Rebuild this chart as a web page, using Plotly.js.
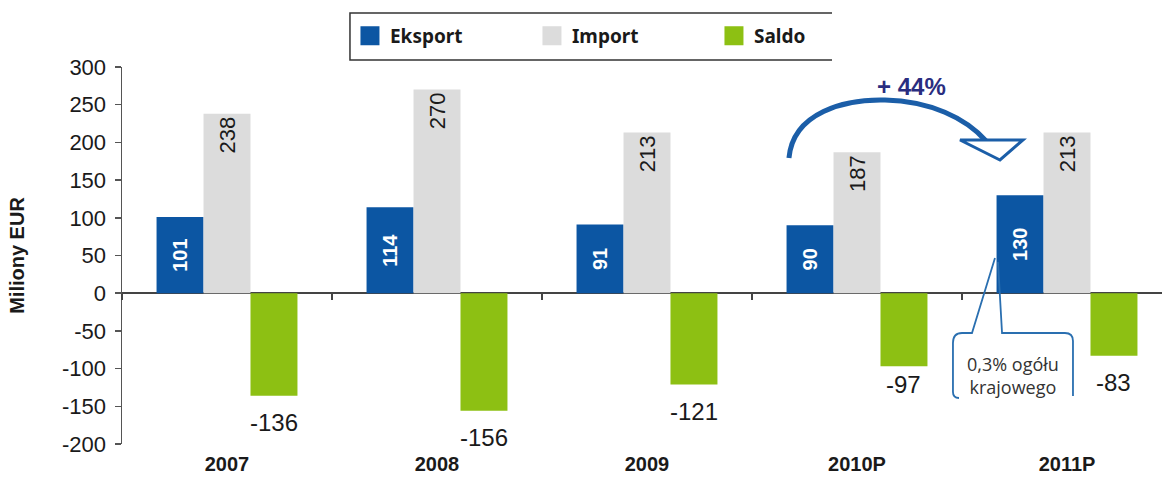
<!DOCTYPE html>
<html>
<head>
<meta charset="utf-8">
<script src="https://cdn.plot.ly/plotly-3.0.1.min.js"></script>
<style>html,body{margin:0;padding:0;background:#fff;}#chart{width:1162px;height:491px;}</style>
</head>
<body>
<div id="chart"></div>
<script>
// ---- data ----
const categories = ['2007', '2008', '2009', '2010P', '2011P'];
const eksport = [101, 114, 91, 90, 130];
const importVals = [238, 270, 213, 187, 213];
const saldo = [-136, -156, -121, -97, -83];
const seriesNames = ['Eksport', 'Import', 'Saldo'];
const yTickVals = [-200, -150, -100, -50, 0, 50, 100, 150, 200, 250, 300];
const yTickText = ['-200', '-150', '-100', '-50', '0', '50', '100', '150', '200', '250', '300'];
const growthLabel = '+ 44%';
const calloutText = '0,3% ogółu<br>krajowego';
const yTitle = 'Miliony EUR';

// ---- layout geometry ----
const W = 1162, H = 491;
const M = {l: 122, r: 0, t: 67, b: 47};
const plotW = W - M.l - M.r, plotH = H - M.t - M.b;
const bargap = 0.329;
const xRange = [-0.5, -0.5 + plotW / 210];
const FONT = 'Liberation Sans, Arial, sans-serif';
const TXT = '#1a1a1a';
const BLUE = '#0c56a3', GREY = '#dcdcdc', GREEN = '#8dc013';
const colors = [BLUE, GREY, GREEN];

// pixel -> paper helpers for decorations
const px = x => ((x - M.l) / plotW).toFixed(4);
const py = y => ((H - M.b - y) / plotH).toFixed(4);
const P = (x, y) => px(x) + ',' + py(y);

const traces = [
  {type: 'bar', name: seriesNames[0], x: categories, y: eksport, showlegend: false,
   marker: {color: BLUE}, text: eksport.map(String), textposition: 'inside',
   insidetextanchor: 'middle', textangle: -90,
   textfont: {family: FONT, size: 20, color: '#ffffff', weight: 'bold'}, hoverinfo: 'y'},
  {type: 'bar', name: seriesNames[1], x: categories, y: importVals, showlegend: false,
   marker: {color: GREY}, text: importVals.map(String), textposition: 'inside',
   insidetextanchor: 'end', textangle: -90,
   textfont: {family: FONT, size: 22, color: TXT}, hoverinfo: 'y'},
  {type: 'bar', name: seriesNames[2], x: categories, y: saldo, showlegend: false,
   marker: {color: GREEN}, textposition: 'none', hoverinfo: 'y'},
  // helper trace carrying the category boundary ticks on the zero line
  {type: 'scatter', mode: 'markers', x: categories, y: categories.map(() => 0),
   xaxis: 'x2', yaxis: 'y', marker: {opacity: 0}, showlegend: false, hoverinfo: 'skip'}
];
// legend entries with larger square swatches
seriesNames.forEach((n, i) => traces.push({
  type: 'scatter', mode: 'markers', name: n, x: [null], y: [null],
  marker: {symbol: 'square', size: 16, color: colors[i], line: {color: colors[i], width: 3}},
  hoverinfo: 'skip'
}));

const barW = (1 - bargap) / 3;
const saldoShift = [-27, -27, -27, -18, -27];
const annotations = saldo.map((v, i) => ({
  x: i + barW, y: v, xref: 'x', yref: 'y', text: String(v), showarrow: false,
  yshift: saldoShift[i], yanchor: 'middle', xanchor: 'center',
  font: {family: FONT, size: 24, color: TXT}
}));
annotations.push({
  xref: 'paper', yref: 'paper', x: +px(911), y: +py(86), xanchor: 'center', yanchor: 'middle',
  text: growthLabel, showarrow: false,
  font: {family: FONT, size: 24, color: '#2a2d80', weight: 'bold'}
});
annotations.push({
  xref: 'paper', yref: 'paper', x: +px(1013), y: +py(376), xanchor: 'center', yanchor: 'middle',
  text: calloutText, showarrow: false, align: 'center',
  font: {family: 'Open Sans, sans-serif', size: 18, color: '#333'}
});

const shapes = [
  // legend frame (open on the right)
  {type: 'path', xref: 'paper', yref: 'paper', layer: 'below',
   path: 'M' + P(832, 13) + ' L' + P(350, 13) + ' L' + P(350, 60) + ' L' + P(832, 60),
   line: {color: '#333', width: 1.5}},
  // curved growth arrow
  {type: 'path', xref: 'paper', yref: 'paper',
   path: 'M' + P(789, 158) + ' C' + P(793, 112) + ' ' + P(845, 99) + ' ' + P(885, 100) +
         ' C' + P(930, 101) + ' ' + P(966, 118) + ' ' + P(986, 141),
   line: {color: '#1b5ea8', width: 5}},
  {type: 'path', xref: 'paper', yref: 'paper',
   path: 'M' + P(960, 140) + ' L' + P(1023, 140) + ' L' + P(1000, 160) + ' Z',
   line: {color: '#1b5ea8', width: 3}, fillcolor: '#ffffff'},
  // callout outline
  {type: 'path', xref: 'paper', yref: 'paper',
   path: 'M' + P(995, 258) + ' L' + P(972, 333) + ' L' + P(962, 333) + ' Q' + P(953, 333) + ' ' + P(953, 343) +
         ' L' + P(953, 392) + ' Q' + P(953, 398) + ' ' + P(959, 398),
   line: {color: '#2a6fb0', width: 1.8}},
  {type: 'path', xref: 'paper', yref: 'paper',
   path: 'M' + P(998, 262) + ' L' + P(1002, 333) + ' L' + P(1065, 333) + ' Q' + P(1073, 333) + ' ' + P(1073, 341) +
         ' L' + P(1073, 396),
   line: {color: '#2a6fb0', width: 1.8}}
];

const layout = {
  width: W, height: H, margin: M,
  paper_bgcolor: '#fff', plot_bgcolor: '#fff',
  barmode: 'group', bargap: bargap, bargroupgap: 0,
  font: {family: FONT, color: TXT},
  showlegend: true,
  legend: {orientation: 'h', x: +px(350), y: +py(17), xanchor: 'left', yanchor: 'top',
           borderwidth: 0, bgcolor: 'rgba(0,0,0,0)', entrywidth: 137,
           font: {family: 'Noto Sans, sans-serif', size: 19, color: TXT, weight: 'bold'},
           traceorder: 'normal'},
  xaxis: {type: 'category', range: xRange, showline: false, ticks: '', showgrid: false,
          zeroline: false, fixedrange: true, ticklabelstandoff: 6,
          tickfont: {family: FONT, size: 20, color: TXT, weight: 'bold'}},
  xaxis2: {type: 'category', overlaying: 'x', anchor: 'free', position: 0.4, range: xRange,
           showticklabels: false, ticks: 'outside', tickson: 'boundaries', ticklen: 6,
           tickcolor: '#444', tickwidth: 1.5, showline: false, showgrid: false, zeroline: false},
  yaxis: {range: [-200, 300], tickvals: yTickVals, ticktext: yTickText, showline: true,
          linecolor: '#555', linewidth: 1.5,
          ticks: 'outside', ticklen: 6, tickcolor: '#555', tickwidth: 1.5, showgrid: false,
          zeroline: true, zerolinecolor: '#444', zerolinewidth: 2, ticklabelstandoff: 4,
          tickfont: {family: FONT, size: 22, color: TXT},
          title: {text: yTitle, standoff: 32, font: {family: FONT, size: 20, color: TXT, weight: 'bold'}}},
  annotations: annotations,
  shapes: shapes
};

Plotly.newPlot('chart', traces, layout, {displayModeBar: false, staticPlot: true});
</script>
</body>
</html>
